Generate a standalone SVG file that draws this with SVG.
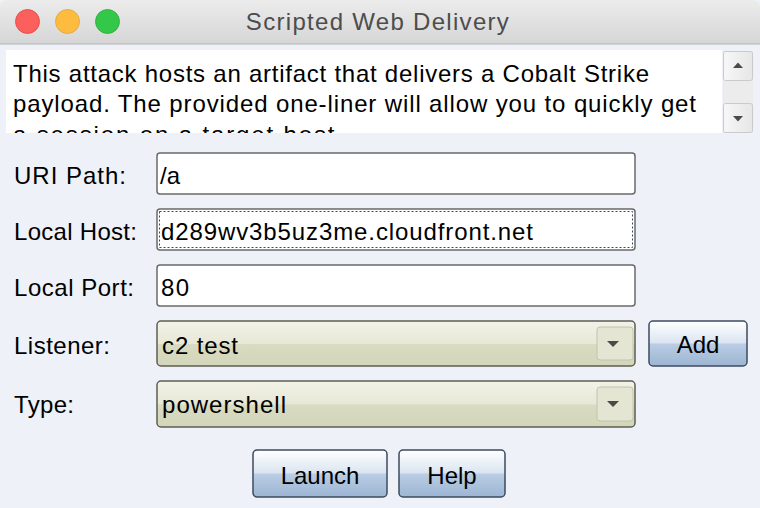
<svg xmlns="http://www.w3.org/2000/svg" width="760" height="508" viewBox="0 0 760 508">
<defs>
<linearGradient id="tb" x1="0" y1="0" x2="0" y2="1"><stop offset="0" stop-color="#ececec"/><stop offset="1" stop-color="#d6d6d6"/></linearGradient>
<linearGradient id="btn" x1="0" y1="0" x2="0" y2="1"><stop offset="0" stop-color="#ffffff"/><stop offset="0.48" stop-color="#dbe5f1"/><stop offset="0.52" stop-color="#b9cde3"/><stop offset="1" stop-color="#9cb5d3"/></linearGradient>
<linearGradient id="cmb" x1="0" y1="0" x2="0" y2="1"><stop offset="0" stop-color="#f2f2e8"/><stop offset="0.5" stop-color="#e7e8d6"/><stop offset="0.52" stop-color="#d9dbc2"/><stop offset="1" stop-color="#d3d6b9"/></linearGradient>
<linearGradient id="sb" x1="0" y1="0" x2="1" y2="0"><stop offset="0" stop-color="#f7f7f7"/><stop offset="1" stop-color="#e6e6e6"/></linearGradient>
<clipPath id="ta"><rect x="6" y="50" width="716" height="83"/></clipPath>
</defs>
<style>
.t{font-family:"Liberation Sans",Arial,sans-serif;font-size:24px;fill:#000}
.fld{fill:#fff;stroke:#6a6a6a;stroke-width:1.5}
.cb{fill:url(#cmb);stroke:#5c5f52;stroke-width:1.5}
.ab{fill:#e4e5d3;stroke:#c2c4ad;stroke-width:1}
.bt{fill:url(#btn);stroke:#3d4b60;stroke-width:1.5}
.arr{fill:#4a4a4a}
.sbb{fill:url(#sb);stroke:#cacaca;stroke-width:1}
</style>
<rect x="0" y="0" width="760" height="508" fill="#eef1f8"/>
<g id="titlebar">
<path d="M0,44 V8 Q0,0 8,0 H752 Q760,0 760,8 V44 Z" fill="url(#tb)"/>
<line x1="0" y1="44" x2="760" y2="44" stroke="#b4b4b4" stroke-width="1"/>
<circle cx="27.5" cy="21.5" r="12" fill="#fc605c" stroke="#e0443e" stroke-width="0.8"/>
<circle cx="67.5" cy="21.5" r="12" fill="#fdbc40" stroke="#dea236" stroke-width="0.8"/>
<circle cx="107.5" cy="21.5" r="12" fill="#34c84a" stroke="#27aa35" stroke-width="0.8"/>
<text x="378" y="30" text-anchor="middle" style="font-family:'Liberation Sans',Arial,sans-serif;font-size:24px;fill:#4d4d4d;letter-spacing:1.3px">Scripted Web Delivery</text>
</g>
<g id="description">
<rect x="6" y="50" width="716" height="83" fill="#ffffff"/>
<g clip-path="url(#ta)">
<text class="t" x="13" y="82" textLength="636">This attack hosts an artifact that delivers a Cobalt Strike</text>
<text class="t" x="13" y="112" textLength="683">payload. The provided one-liner will allow you to quickly get</text>
<text class="t" x="13" y="143" textLength="330">a session on a target host.</text>
</g>
<rect x="723" y="51" width="30" height="82" fill="#ececec"/>
<rect class="sbb" x="723.5" y="51.5" width="29" height="29" rx="2"/>
<rect class="sbb" x="723.5" y="103.5" width="29" height="29" rx="2"/>
<path class="arr" d="M733,68 L738,62.5 L743,68 Z"/>
<path class="arr" d="M733,116 L743,116 L738,121.5 Z"/>
</g>
<g id="uri-path">
<text class="t" x="14" y="184" textLength="112">URI Path:</text>
<rect class="fld" x="157" y="153" width="478" height="41" rx="3"/>
<text class="t" x="160" y="184">/a</text>
</g>
<g id="local-host">
<text class="t" x="14" y="240" textLength="123">Local Host:</text>
<rect class="fld" x="157" y="209" width="478" height="41" rx="3"/>
<rect x="159.5" y="211.5" width="473" height="36" fill="none" stroke="#3a4a66" stroke-width="1" stroke-dasharray="2,2"/>
<text class="t" x="161" y="240" textLength="372">d289wv3b5uz3me.cloudfront.net</text>
</g>
<g id="local-port">
<text class="t" x="14" y="296" textLength="120">Local Port:</text>
<rect class="fld" x="157" y="265" width="478" height="41" rx="3"/>
<text class="t" x="161" y="296" textLength="28">80</text>
</g>
<g id="listener">
<text class="t" x="14" y="354" textLength="96">Listener:</text>
<rect class="cb" x="157" y="321" width="478" height="45" rx="4"/>
<rect class="ab" x="597" y="327" width="36" height="33" rx="3"/>
<path class="arr" d="M607,341 L619,341 L613,347 Z"/>
<text class="t" x="162" y="354" textLength="76">c2 test</text>
</g>
<g id="add-button">
<rect class="bt" x="649" y="321" width="98" height="45" rx="4"/>
<text class="t" x="698" y="353" text-anchor="middle">Add</text>
</g>
<g id="type">
<text class="t" x="14" y="413" textLength="60">Type:</text>
<rect class="cb" x="157" y="381" width="478" height="46" rx="4"/>
<rect class="ab" x="597" y="387" width="36" height="34" rx="3"/>
<path class="arr" d="M607,401 L619,401 L613,407 Z"/>
<text class="t" x="162" y="413" textLength="124">powershell</text>
</g>
<g id="launch-button">
<rect class="bt" x="253" y="450" width="134" height="47" rx="4"/>
<text class="t" x="320" y="484" text-anchor="middle">Launch</text>
</g>
<g id="help-button">
<rect class="bt" x="399" y="450" width="106" height="47" rx="4"/>
<text class="t" x="452" y="484" text-anchor="middle">Help</text>
</g>
</svg>
